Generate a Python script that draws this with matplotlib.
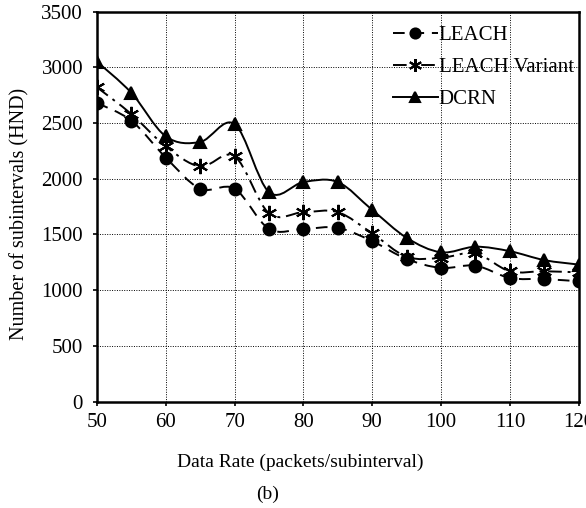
import numpy as np
import matplotlib
matplotlib.use("Agg")
import matplotlib.pyplot as plt
from matplotlib.path import Path
from matplotlib.patches import PathPatch
from matplotlib.lines import Line2D

plt.rcParams['font.family'] = ['Liberation Serif', 'DejaVu Serif']

data_rate = [50, 55, 60, 65, 70, 75, 80, 85, 90, 95, 100, 105, 110, 115, 120]
leach = [2680, 2520, 2190, 1910, 1910, 1550, 1550, 1560, 1440, 1280, 1200, 1220, 1110, 1100, 1080]
leach_variant = [2820, 2580, 2290, 2110, 2200, 1690, 1700, 1700, 1510, 1300, 1290, 1330, 1170, 1170, 1160]
dcrn = [3050, 2770, 2380, 2330, 2490, 1880, 1970, 1970, 1720, 1470, 1340, 1390, 1350, 1270, 1230]


def smooth_path(x, y):
    # cubic bezier through the points, excel-like smoothing
    x = np.asarray(x, float)
    y = np.asarray(y, float)
    verts = [(x[0], y[0])]
    codes = [Path.MOVETO]
    n = len(x)
    for i in range(n - 1):
        x0, y0 = (x[i - 1], y[i - 1]) if i > 0 else (x[i], y[i])
        x3, y3 = (x[i + 2], y[i + 2]) if i + 2 < n else (x[i + 1], y[i + 1])
        c1 = (x[i] + (x[i + 1] - x0) / 6, y[i] + (y[i + 1] - y0) / 6)
        c2 = (x[i + 1] - (x3 - x[i]) / 6, y[i + 1] - (y3 - y[i]) / 6)
        verts += [c1, c2, (x[i + 1], y[i + 1])]
        codes += [Path.CURVE4] * 3
    return Path(verts, codes)


fig = plt.figure(figsize=(5.86, 5.08), dpi=100)
ax = fig.add_axes([0.1655, 0.2093, 0.822, 0.768])

series = [
    (leach, 'LEACH', 'o', 8.5, (0, (6, 4))),
    (leach_variant, 'LEACH Variant', (6, 2, 0), 11, (0, (7, 3, 1.5, 3))),
    (dcrn, 'DCRN', '^', 9, '-'),
]

handles = []
for vals, name, mk, ms, ls in series:
    ax.add_patch(PathPatch(smooth_path(data_rate, vals), fill=False,
                           edgecolor='black', lw=1.4, linestyle=ls, zorder=3))
    ax.plot(data_rate, vals, linestyle='none', marker=mk, markersize=ms,
            color='black', markeredgewidth=1.5, zorder=4)
    handles.append(Line2D([], [], color='black', lw=1.4, linestyle=ls,
                          marker=mk, markersize=ms * 0.85, markeredgewidth=1.5))

ax.set_xlim(50, 120)
ax.set_ylim(0, 3500)
ax.set_xticks(range(50, 121, 10))
ax.set_yticks(range(0, 3501, 500))
ax.grid(True, color='black', linestyle=(0, (1, 1.5)), lw=0.7)
ax.set_axisbelow(True)
for s in ax.spines.values():
    s.set_linewidth(1.8)
ax.tick_params(labelsize=15, direction='out', length=3, width=1.2)
ax.tick_params(axis='y', pad=7)
ax.tick_params(axis='x', pad=5)

leg = fig.legend(handles, [s[1] for s in series], loc='upper left',
                 frameon=False, fontsize=15, handlelength=2.15,
                 handletextpad=0.05, labelspacing=0.6, borderpad=0,
                 borderaxespad=0, bbox_to_anchor=(393 / 586, 0.95))

fig.text(0.512, 0.0906, 'Data Rate (packets/subinterval)', ha='center', va='center', fontsize=14)
fig.text(0.457, 0.026, '(b)', ha='center', va='center', fontsize=14)
fig.text(0.034, 0.579, 'Number of subintervals (HND)', rotation=90,
         ha='center', va='center', fontsize=14.5)

fig.savefig('out.png', dpi=100)
